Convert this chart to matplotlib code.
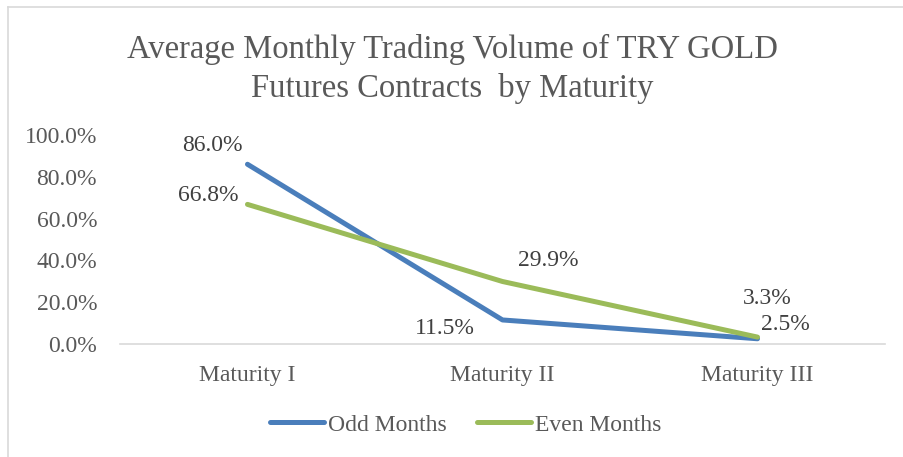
import matplotlib.pyplot as plt
from matplotlib.lines import Line2D

categories = ["Maturity I", "Maturity II", "Maturity III"]
odd_months = [86.0, 11.5, 2.5]
even_months = [66.8, 29.9, 3.3]
yticks = [0, 20, 40, 60, 80, 100]

# label offsets in pixels (dx, dy) relative to the point
odd_offsets = [(-35, 19), (-58, -9), (28, 14)]
even_offsets = [(-39, 9), (46, 21), (10, 39)]

plt.rcParams['font.family'] = ['Liberation Serif', 'DejaVu Serif']
text_col = '#595959'
blue = '#4A7EBB'
green = '#9BBB59'
fs = 17

fig = plt.figure(figsize=(9.04, 4.57), dpi=100)
ax = fig.add_axes([0.1327, 0.2473, 0.979 - 0.1327, 0.7046 - 0.2473])

x = range(len(categories))
ax.plot(x, odd_months, color=blue, lw=3.6, solid_capstyle='round', label='Odd Months')
ax.plot(x, even_months, color=green, lw=3.6, solid_capstyle='round', label='Even Months')

for xi, v, off in zip(x, odd_months, odd_offsets):
    ax.annotate(f"{v:.1f}%", (xi, v), xytext=off, textcoords='offset pixels',
                ha='center', va='center', fontsize=fs, color='#404040')
for xi, v, off in zip(x, even_months, even_offsets):
    ax.annotate(f"{v:.1f}%", (xi, v), xytext=off, textcoords='offset pixels',
                ha='center', va='center', fontsize=fs, color='#404040')

ax.set_xlim(-0.5, 2.5)
ax.set_ylim(0, 100)
ax.set_yticks(yticks)
ax.set_yticklabels([f"{t:.1f}%" for t in yticks])
ax.set_xticks(list(x))
ax.set_xticklabels(categories)
ax.tick_params(axis='both', length=0, labelsize=fs, colors=text_col)
ax.tick_params(axis='y', pad=16.5)
ax.tick_params(axis='x', pad=15)
for s in ['top', 'right', 'left']:
    ax.spines[s].set_visible(False)
ax.spines['bottom'].set_color('#D9D9D9')
ax.spines['bottom'].set_linewidth(1.2)

fig.text(0.5, 1 - 69 / 457, "Average Monthly Trading Volume of TRY GOLD\nFutures Contracts  by Maturity",
         ha='center', va='center', fontsize=23.5, color=text_col, linespacing=1.32)

handles = [Line2D([], [], color=blue, lw=3.6, solid_capstyle='round'),
           Line2D([], [], color=green, lw=3.6, solid_capstyle='round')]
fig.legend(handles, ['Odd Months', 'Even Months'], loc='center', bbox_to_anchor=(0.515, 1 - 425 / 457),
           ncol=2, frameon=False, fontsize=fs, labelcolor=text_col,
           handlelength=2.3, handletextpad=0.15, columnspacing=1.3)

# chart border (top and left edges visible)
fig.add_artist(Line2D([8 / 904, 1], [1 - 7 / 457, 1 - 7 / 457], color='#D9D9D9', lw=1.2))
fig.add_artist(Line2D([8 / 904, 8 / 904], [0, 1 - 7 / 457], color='#D9D9D9', lw=1.2))

fig.savefig('out.png', dpi=100)
